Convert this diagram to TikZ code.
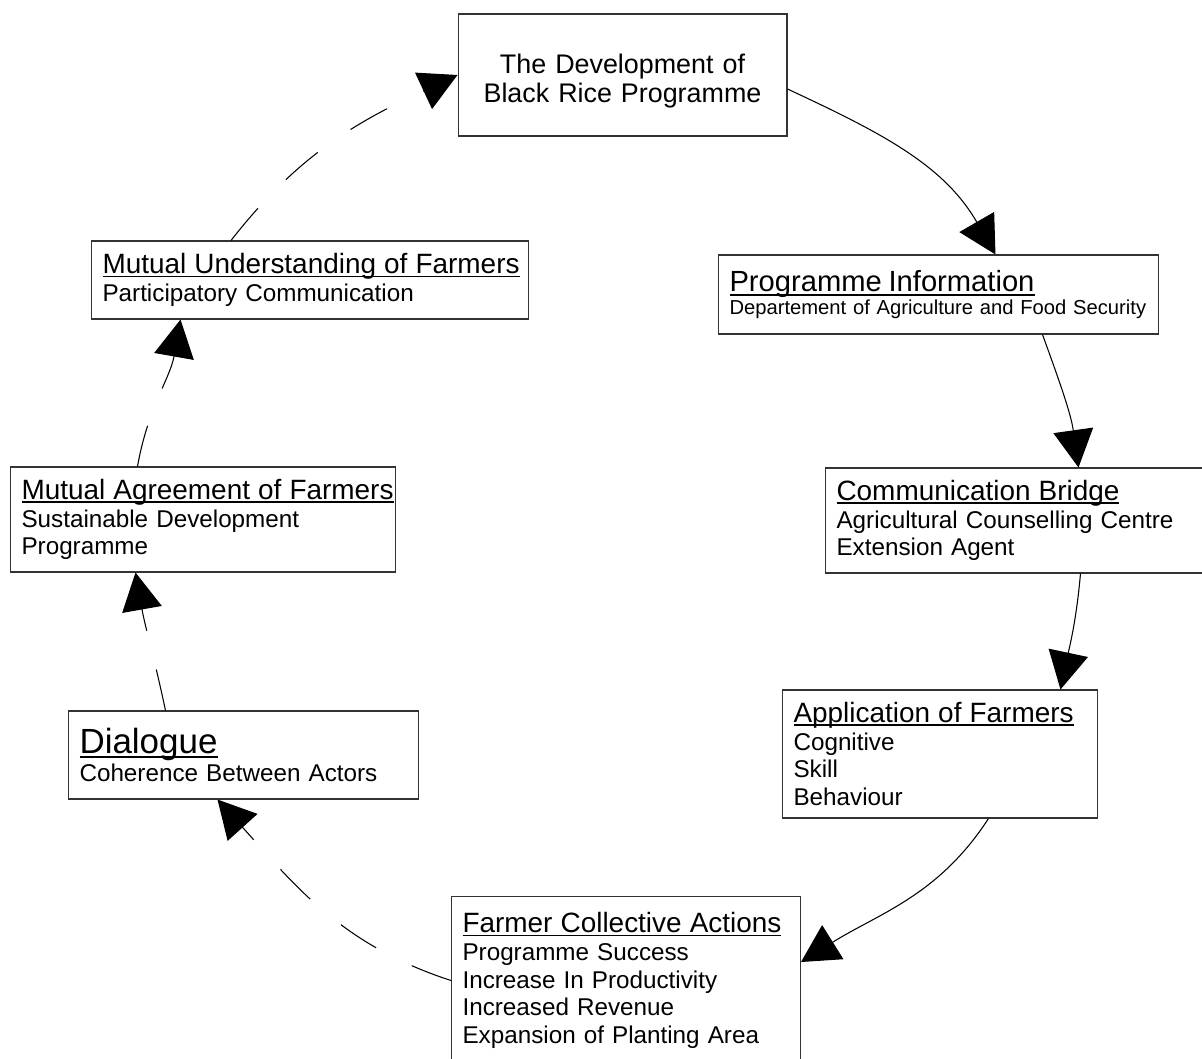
\documentclass[tikz,border=0pt]{standalone}
\usepackage{fontspec}
\setmainfont{Liberation Sans}
\usetikzlibrary{arrows.meta}

% underlined heading, line just below the baseline
\newcommand{\stagehead}[2][15.9]{{\fontsize{#1}{18}\selectfont\setbox0\hbox{#2}\rlap{\rule[-0.13em]{\wd0}{0.06em}}\box0}}

\begin{document}
\begin{tikzpicture}[
    x=0.02cm, y=-0.02cm,
    stage/.style={rectangle, draw=black!80, line width=0.6pt, fill=white, align=left, anchor=west, inner xsep=0.22cm, inner ysep=0pt, font=\fontsize{13.8}{15.8}\selectfont},
    flow/.style={-{Triangle[length=0.75cm, width=0.8cm]}, line width=0.6pt, black},
    feedback/.style={flow, dash pattern=on 0.84cm off 0.8cm}
]
\useasboundingbox (0,0) rectangle (1202,1058);

% Programme side
\node[stage, anchor=center, align=center, text width=6.14cm, minimum height=2.44cm, font=\fontsize{15.3}{16}\selectfont] (dev) at (622.5,75) {\rule{0pt}{18pt}The Development of\\Black Rice Programme};
\node[stage, text width=8.36cm, minimum height=1.58cm, font=\fontsize{11.5}{12.6}\selectfont] (info) at (718,294.5) {\stagehead[16.6]{Programme Information}\\Departement of Agriculture and Food Security};
\node[stage, text width=7.6cm, minimum height=2.1cm] (bridge) at (825,520.5) {\stagehead{Communication Bridge}\\Agricultural Counselling Centre\\Extension Agent};
\node[stage, text width=5.86cm, minimum height=2.56cm] (apply) at (782,754) {\stagehead{Application of Farmers}\\Cognitive\\Skill\\Behaviour};
\node[stage, text width=6.54cm, minimum height=3.38cm] (collect) at (451,980.5) {\stagehead{Farmer Collective Actions}\\Programme Success\\Increase In Productivity\\Increased Revenue\\Expansion of Planting Area};

% Farmers side
\node[stage, text width=6.56cm, minimum height=1.76cm] (dialogue) at (68,755) {\stagehead[19.9]{Dialogue}\\Coherence Between Actors};
\node[stage, text width=7.26cm, minimum height=2.1cm] (agree) at (10,519.5) {\stagehead{Mutual Agreement of Farmers}\\Sustainable Development\\Programme};
\node[stage, text width=8.3cm, minimum height=1.56cm] (underst) at (91,280) {\stagehead{Mutual Understanding of Farmers}\\Participatory Communication};

% Solid flows
\draw[flow] ([yshift=-0.28cm]dev.east) to[out=-25, in=120] ([xshift=1.14cm]info.north);
\draw[flow] ([xshift=2.08cm]info.south) to[out=-70, in=98] ([xshift=1.04cm]bridge.north);
\draw[flow] ([xshift=1.08cm]bridge.south) to[out=-95, in=78] ([xshift=2.41cm]apply.north);
\draw[flow] ([xshift=0.97cm]apply.south) to[out=-123, in=32] ([yshift=0.37cm]collect.east);

% Dashed flows
\draw[feedback] (collect.west) to[out=162, in=-48] ([xshift=-0.52cm]dialogue.south);
\draw[feedback] ([xshift=-1.56cm]dialogue.north) to[out=102, in=-80] ([xshift=-1.35cm]agree.south);
\draw[feedback] ([xshift=-1.31cm]agree.north) to[out=80, in=-100] ([xshift=-2.59cm]underst.south);
\draw[feedback] ([xshift=-1.58cm]underst.north) to[out=52, in=-155] (dev.west);

\end{tikzpicture}
\end{document}
